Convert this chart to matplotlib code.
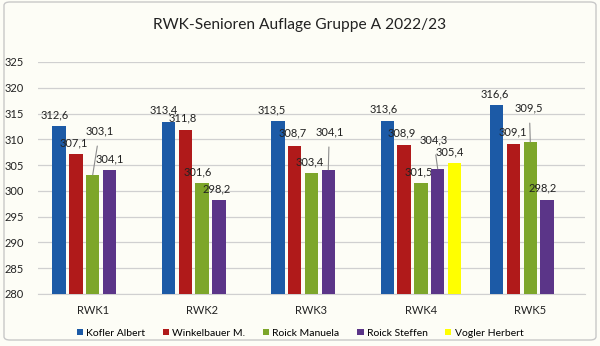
import matplotlib
matplotlib.use("Agg")
import matplotlib.pyplot as plt
from matplotlib.patches import FancyBboxPatch
import numpy as np

plt.rcParams['font.family'] = ['Lato', 'DejaVu Sans']

categories = ["RWK1", "RWK2", "RWK3", "RWK4", "RWK5"]
series_names = ["Kofler Albert", "Winkelbauer M.", "Roick Manuela", "Roick Steffen", "Vogler Herbert"]
kofler = [312.6, 313.4, 313.5, 313.6, 316.6]
winkelbauer = [307.1, 311.8, 308.7, 308.9, 309.1]
manuela = [303.1, 301.6, 303.4, 301.5, 309.5]
steffen = [304.1, 298.2, 304.1, 304.3, 298.2]
vogler = [None, None, None, 305.4, None]
series = [kofler, winkelbauer, manuela, steffen, vogler]
colors = ["#1c5aa6", "#b01a1a", "#7da62a", "#5b3588", "#ffff00"]
yticks = [280, 285, 290, 295, 300, 305, 310, 315, 320, 325]

# label offsets (pixels) per series/category, and whether a leader line is drawn
offsets = {
    (0, 0): (-4, 11, False), (1, 0): (-2, 11, False), (2, 0): (7, 44, True), (3, 0): (0, 11, False),
    (0, 1): (-5, 12, False), (1, 1): (-3, 12, False), (2, 1): (-4, 11, False), (3, 1): (-2, 11, False),
    (0, 2): (-6, 11, False), (1, 2): (-2, 13, False), (2, 2): (-2, 11, False), (3, 2): (1, 38, True),
    (0, 3): (-4, 12, False), (1, 3): (-2, 12, False), (2, 3): (-2, 11, False), (3, 3): (-4, 29, True),
    (4, 3): (-5, 11, False),
    (0, 4): (-2, 11, False), (1, 4): (-1, 12, False), (2, 4): (-1, 34, True), (3, 4): (-4, 12, False),
}

bg = "#fdfdf6"
fig = plt.figure(figsize=(6.0, 3.46), dpi=100, facecolor=bg)
ax = fig.add_axes([38/600, 1-294/346, (585-38)/600, (294-62)/346])
ax.set_facecolor(bg)

x = np.arange(len(categories))
pitch = 0.1535
width = 0.123
for s, (vals, col, name) in enumerate(zip(series, colors, series_names)):
    xs, vs = [], []
    for c, v in enumerate(vals):
        if v is not None:
            xs.append(x[c] + (s - 2) * pitch)
            vs.append(v - 280)
    ax.bar(xs, vs, width, bottom=280, color=col, label=name, zorder=3)
    for c, v in enumerate(vals):
        if v is None:
            continue
        dx, dy, line = offsets[(s, c)]
        xc = x[c] + (s - 2) * pitch
        txt = f"{v:.1f}".replace(".", ",")
        if line:
            ax.annotate(txt, xy=(xc, v), xytext=(dx, dy), textcoords="offset pixels",
                        ha="center", va="center", fontsize=8, color="#222222",
                        arrowprops=dict(arrowstyle="-", color="#8c8c8c", lw=0.8,
                                        shrinkA=5, shrinkB=0))
        else:
            ax.annotate(txt, xy=(xc, v), xytext=(dx, dy), textcoords="offset pixels",
                        ha="center", va="center", fontsize=8, color="#222222")

ax.set_ylim(280, 325)
ax.set_xlim(-0.5, len(categories) - 0.5)
ax.set_yticks(yticks)
ax.set_yticklabels([str(t) for t in yticks])
ax.set_xticks(x)
ax.set_xticklabels(categories)
ax.tick_params(axis="both", length=0, labelsize=8, colors="#222222")
ax.tick_params(axis="y", pad=10)
ax.tick_params(axis="x", pad=8)
ax.grid(axis="y", color="#d0d0d0", lw=0.9, zorder=0)
for sp in ["top", "right", "left"]:
    ax.spines[sp].set_visible(False)
ax.spines["bottom"].set_color("#d0d0d0")

fig.text(0.5, 1-25/346, "RWK-Senioren Auflage Gruppe A 2022/23", ha="center", va="center",
         fontsize=11.2, color="#222222")

leg = fig.legend(loc="center", bbox_to_anchor=(0.5, 1-333/346), ncol=5, frameon=False,
                 fontsize=7.5, handlelength=0.6, handleheight=0.6, handletextpad=0.3,
                 columnspacing=1.7)

border = FancyBboxPatch((4/600, 6/346), 592/600, 338/346, boxstyle="round,pad=0,rounding_size=0.01",
                        transform=fig.transFigure, fill=False, edgecolor="#c8c8c8", lw=1.0)
fig.patches.append(border)

fig.savefig("out.png", dpi=100, facecolor=bg)
